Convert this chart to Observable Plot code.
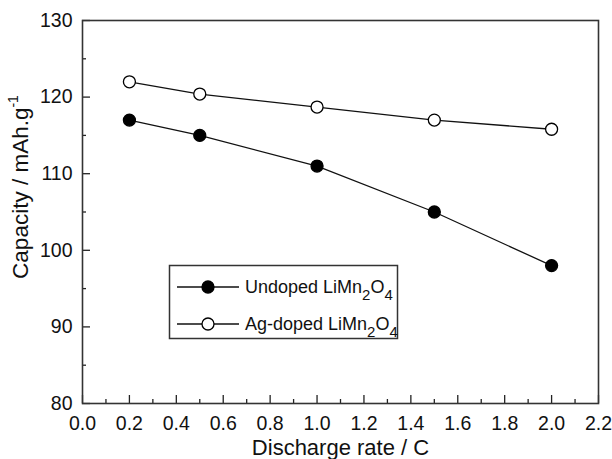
<!DOCTYPE html>
<html>
<head>
<meta charset="utf-8">
<script src="https://cdn.jsdelivr.net/npm/d3@7"></script>
<script src="https://cdn.jsdelivr.net/npm/@observablehq/plot@0.6"></script>
<style>
  html, body { margin: 0; padding: 0; background: #fff; }
</style>
</head>
<body>
<script>
// ---- data ----
const rates = [0.2, 0.5, 1.0, 1.5, 2.0];
const undoped = [117, 115, 111, 105, 98];
const agDoped = [122, 120.4, 118.7, 117, 115.8];
const seriesNames = ["Undoped LiMn2O4", "Ag-doped LiMn2O4"];
const xMajor = [0, 0.2, 0.4, 0.6, 0.8, 1.0, 1.2, 1.4, 1.6, 1.8, 2.0, 2.2];
const xMinor = [0.1, 0.3, 0.5, 0.7, 0.9, 1.1, 1.3, 1.5, 1.7, 1.9, 2.1];
const yMajor = [80, 90, 100, 110, 120, 130];
const yMinor = [85, 95, 105, 115, 125];
const xTitle = "Discharge rate / C";
const yTitle = "Capacity / mAh.g";
const yTitleSup = "-1";

const rows = [];
rates.forEach((r, i) => rows.push({rate: r, cap: undoped[i], series: seriesNames[0]}));
rates.forEach((r, i) => rows.push({rate: r, cap: agDoped[i], series: seriesNames[1]}));

const font = "'Liberation Sans', Arial, Helvetica, sans-serif";

const chart = Plot.plot({
  width: 612,
  height: 459,
  marginLeft: 82,
  marginRight: 14,
  marginTop: 20,
  marginBottom: 56,
  style: {fontFamily: font, fontSize: "19.5px", color: "#111", background: "#fff", overflow: "visible"},
  x: {domain: [0, 2.2]},
  y: {domain: [80, 130]},
  color: {domain: seriesNames, range: ["#000", "#fff"]},
  marks: [
    Plot.axisX(xMinor, {tickSize: -4, tickFormat: () => "", label: null, stroke: "#222", strokeWidth: 1.3}),
    Plot.axisY(yMinor, {tickSize: -4, tickFormat: () => "", label: null, stroke: "#222", strokeWidth: 1.3}),
    Plot.axisX(xMajor, {tickSize: -8, tickPadding: 21, tickFormat: d => d.toFixed(1),
      stroke: "#222", strokeWidth: 1.3, label: xTitle, labelAnchor: "center", labelArrow: "none", labelOffset: 51}),
    Plot.axisY(yMajor, {tickSize: -8, tickPadding: 18, tickFormat: d => String(d),
      stroke: "#222", strokeWidth: 1.3, label: yTitle, labelAnchor: "center", labelArrow: "none", labelOffset: 70}),
    Plot.frame({stroke: "#333", strokeWidth: 1.6}),
    Plot.line(rows, {x: "rate", y: "cap", z: "series", stroke: "#111", strokeWidth: 1.3}),
    Plot.dot(rows, {x: "rate", y: "cap", fill: "series", stroke: "#000", strokeWidth: 1.3, r: 6})
  ]
});

const svg = d3.select(chart);

// tick label size
svg.selectAll('g[aria-label="x-axis tick label"], g[aria-label="y-axis tick label"]')
  .attr("font-size", 19.5).style("font-size", "19.5px");

// axis titles: larger font, superscript on y
svg.selectAll('g[aria-label="x-axis label"]').attr("font-size", 22).style("font-size", "22px");
svg.selectAll('g[aria-label="y-axis label"]').attr("font-size", 22.5).style("font-size", "22.5px");
const yl = svg.select('g[aria-label="y-axis label"] text');
yl.attr("dy", null);
yl.text(null);
yl.append("tspan").attr("dx", 25).text(yTitle);
yl.append("tspan").attr("font-size", 14).attr("dy", "-0.75em").text(yTitleSup);

// legend
const lg = svg.append("g").attr("font-family", font).attr("font-size", 18).attr("text-anchor", "start");
lg.append("rect").attr("x", 169.5).attr("y", 265.5).attr("width", 228).attr("height", 73)
  .attr("fill", "#fff").attr("stroke", "#333").attr("stroke-width", 1.5);
seriesNames.forEach((name, i) => {
  const cy = 287 + i * 37;
  lg.append("line").attr("x1", 177).attr("x2", 239).attr("y1", cy).attr("y2", cy)
    .attr("stroke", "#111").attr("stroke-width", 1.3);
  lg.append("circle").attr("cx", 208).attr("cy", cy).attr("r", 6)
    .attr("fill", i === 0 ? "#000" : "#fff").attr("stroke", "#000").attr("stroke-width", 1.3);
  const t = lg.append("text").attr("x", 245).attr("y", cy + 6).attr("fill", "#111").attr("text-anchor", "start");
  const parts = name.split(/(\d)/).filter(s => s.length);
  parts.forEach(p => {
    if (/^\d$/.test(p)) {
      t.append("tspan").attr("font-size", 15).attr("baseline-shift", "-45%").text(p);
    } else {
      t.append("tspan").text(p);
    }
  });
});

document.body.append(chart);
</script>
</body>
</html>
